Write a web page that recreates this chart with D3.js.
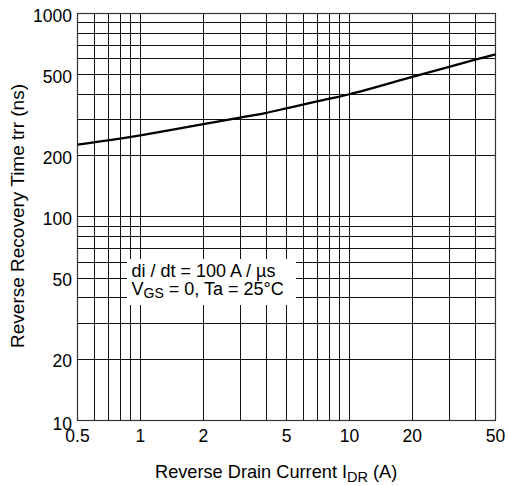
<!DOCTYPE html>
<html><head><meta charset="utf-8">
<script src="https://cdn.jsdelivr.net/npm/d3@7/dist/d3.min.js"></script>
<style>body{margin:0;background:#fff}svg{display:block}text{font-family:"Liberation Sans",Arial,sans-serif;fill:#000}</style>
</head><body><svg id="c" width="509" height="486"></svg>
<script>
const currentA = [0.5, 0.7, 1, 2, 3, 4, 5, 7, 10, 20, 30, 40, 50];
const trrNs    = [227, 238, 252, 286, 308, 325, 342, 370, 401, 488, 547, 593, 630];
const xTicks = [0.5, 1, 2, 5, 10, 20, 50];
const yTicks = [10, 20, 50, 100, 200, 500, 1000];
const xGrid = [0.6,0.7,0.8,0.9,1,2,3,4,5,6,7,8,9,10,20,30,40];
const yGrid = [20,30,40,50,60,70,80,90,100,200,300,400,500,600,700,800,900];

const svg = d3.select("#c");
const x = d3.scaleLog().domain([0.5, 50]).range([77.5, 495.5]);
const y = d3.scaleLog().domain([10, 1000]).range([420.5, 13.5]);
const px = v => Math.round(v - 0.5) + 0.5;

const g = svg.append("g");
g.selectAll("line.vx").data(xGrid).join("line")
  .attr("x1", d => px(x(d))).attr("x2", d => px(x(d)))
  .attr("y1", y(1000)).attr("y2", y(10))
  .attr("stroke", "#111").attr("stroke-width", 1);
g.selectAll("line.hy").data(yGrid).join("line")
  .attr("y1", d => px(y(d))).attr("y2", d => px(y(d)))
  .attr("x1", x(0.5)).attr("x2", x(50))
  .attr("stroke", "#111").attr("stroke-width", 1);

// frame
g.append("rect").attr("x", x(0.5)).attr("y", y(1000))
  .attr("width", x(50) - x(0.5)).attr("height", y(10) - y(1000))
  .attr("fill", "none").attr("stroke", "#333").attr("stroke-width", 1.2);

// curve
const line = d3.line().x((d, i) => x(currentA[i])).y(d => y(d)).curve(d3.curveCatmullRom.alpha(0.5));
svg.append("path").attr("d", line(trrNs))
  .attr("fill", "none").attr("stroke", "#000").attr("stroke-width", 2.2);

// annotation box
svg.append("rect").attr("x", 127).attr("y", 259).attr("width", 169).attr("height", 46).attr("fill", "#fff");
svg.append("text").attr("x", 131.5).attr("y", 277).style("font-size", "18px")
  .text("di / dt = 100 A / \u00b5s");
const t2 = svg.append("text").attr("x", 131.5).attr("y", 295).style("font-size", "18px");
t2.append("tspan").text("V");
t2.append("tspan").attr("dy", 3).style("font-size", "14px").text("GS");
t2.append("tspan").attr("dy", -3).text(" = 0, Ta = 25\u00b0C");

// tick labels
svg.selectAll("text.xt").data(xTicks).join("text")
  .attr("x", d => x(d)).attr("y", 442).attr("text-anchor", "middle")
  .style("font-size", "17.5px").text(d => d);
svg.selectAll("text.yt").data(yTicks).join("text")
  .attr("x", 72).attr("y", d => y(d) + (d === 10 ? 9.5 : 8))
  .attr("text-anchor", "end").style("font-size", "17.5px").text(d => d);

// axis titles
const xt = svg.append("text").attr("x", 155).attr("y", 478).style("font-size", "18.2px");
xt.append("tspan").text("Reverse Drain Current I");
xt.append("tspan").attr("dy", 4).style("font-size", "14.5px").text("DR");
xt.append("tspan").attr("dy", -4).text(" (A)");
svg.append("text").attr("transform", "translate(24,216) rotate(-90)")
  .attr("text-anchor", "middle").style("font-size", "19px")
  .text("Reverse Recovery Time trr (ns)");
</script></body></html>
